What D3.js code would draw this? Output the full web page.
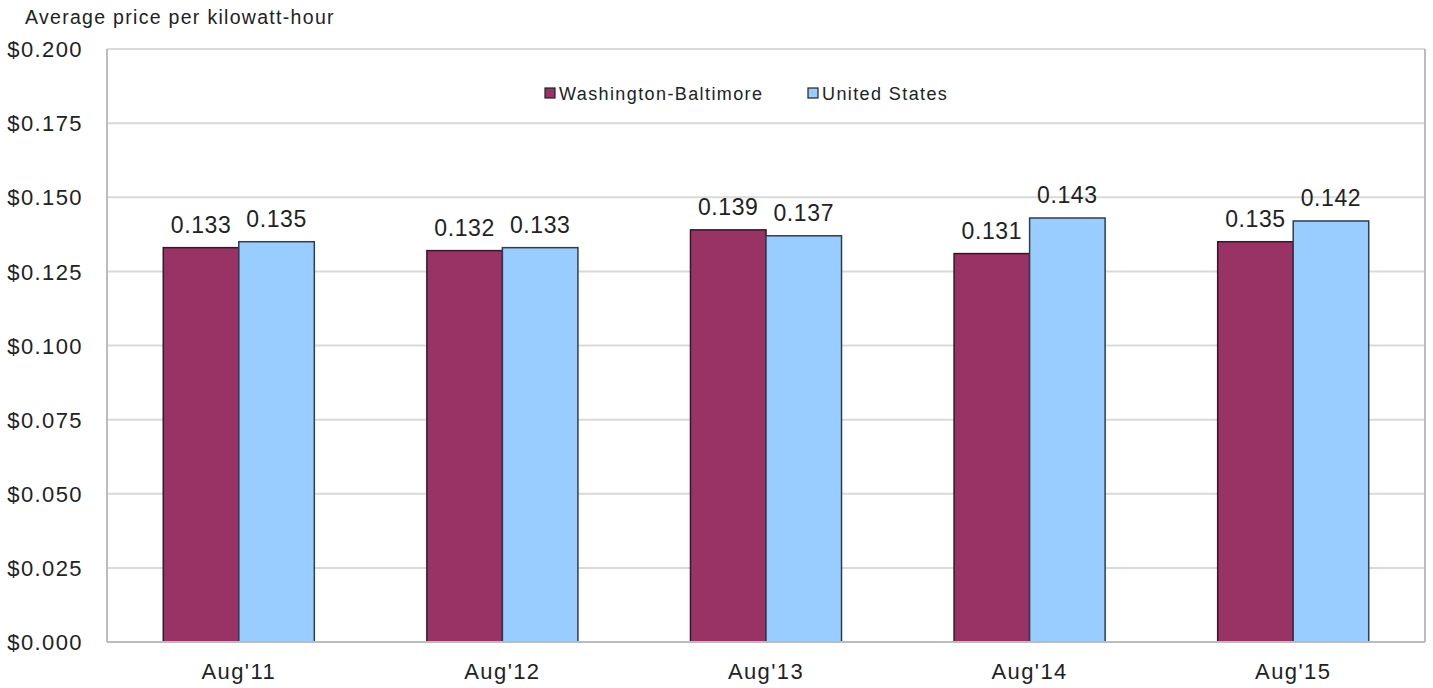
<!DOCTYPE html>
<html>
<head>
<meta charset="utf-8">
<script src="https://cdn.jsdelivr.net/npm/d3@7"></script>
<style>
  body { margin: 0; background: #fff; }
  text { font-family: "Liberation Sans", Arial, sans-serif; fill: #222; }
</style>
</head>
<body>
<div id="wrapper"></div>
<script>
// data
const periods = ["Aug'11", "Aug'12", "Aug'13", "Aug'14", "Aug'15"];
const seriesNames = ["Washington-Baltimore", "United States"];
const washBalt = [0.133, 0.132, 0.139, 0.131, 0.135];
const unitedStates = [0.135, 0.133, 0.137, 0.143, 0.142];
const yTicks = [0, 0.025, 0.05, 0.075, 0.1, 0.125, 0.15, 0.175, 0.2];
const colors = ["#993366", "#99ccff"];

const dataset = periods.map((p, i) => ({
  period: p,
  values: [washBalt[i], unitedStates[i]],
}));

// dimensions
let dimensions = {
  width: 1433,
  height: 688,
  margin: { top: 49, right: 8, bottom: 46, left: 107 },
};
dimensions.boundedWidth =
  dimensions.width - dimensions.margin.left - dimensions.margin.right;
dimensions.boundedHeight =
  dimensions.height - dimensions.margin.top - dimensions.margin.bottom;

const wrapper = d3
  .select("#wrapper")
  .append("svg")
  .attr("width", dimensions.width)
  .attr("height", dimensions.height);

const bounds = wrapper
  .append("g")
  .attr("transform", `translate(${dimensions.margin.left},${dimensions.margin.top})`);

// scales
const xScale = d3
  .scaleBand()
  .domain(periods)
  .range([0, dimensions.boundedWidth])
  .paddingInner(0.427)
  .paddingOuter(0.2135);

const xSub = d3
  .scaleBand()
  .domain(seriesNames)
  .range([0, xScale.bandwidth()]);

const yScale = d3
  .scaleLinear()
  .domain([0, 0.2])
  .range([dimensions.boundedHeight, 0]);

// gridlines
bounds
  .append("g")
  .selectAll("line")
  .data(yTicks.slice(1))
  .join("line")
  .attr("x1", 0)
  .attr("x2", dimensions.boundedWidth)
  .attr("y1", (d) => yScale(d))
  .attr("y2", (d) => yScale(d))
  .attr("stroke", "#d9d9d9")
  .attr("stroke-width", 2);

// plot frame (left, right)
bounds
  .append("line")
  .attr("x1", 0).attr("x2", 0)
  .attr("y1", 0).attr("y2", dimensions.boundedHeight)
  .attr("stroke", "#bcbcbc").attr("stroke-width", 2);
bounds
  .append("line")
  .attr("x1", dimensions.boundedWidth).attr("x2", dimensions.boundedWidth)
  .attr("y1", 0).attr("y2", dimensions.boundedHeight)
  .attr("stroke", "#bcbcbc").attr("stroke-width", 2);

// bars
const groups = bounds
  .selectAll(".group")
  .data(dataset)
  .join("g")
  .attr("class", "group")
  .attr("transform", (d) => `translate(${xScale(d.period)},0)`);

groups
  .selectAll("rect")
  .data((d) => d.values.map((v, i) => ({ name: seriesNames[i], value: v, i })))
  .join("rect")
  .attr("x", (d) => xSub(d.name))
  .attr("y", (d) => yScale(d.value))
  .attr("width", xSub.bandwidth())
  .attr("height", (d) => dimensions.boundedHeight - yScale(d.value))
  .attr("fill", (d) => colors[d.i])
  .attr("stroke", (d) => (d.i === 0 ? "#3a1428" : "#2e3e50"))
  .attr("stroke-width", 1.5);

groups
  .selectAll(".val")
  .data((d) => d.values.map((v, i) => ({ name: seriesNames[i], value: v })))
  .join("text")
  .attr("class", "val")
  .attr("x", (d) => xSub(d.name) + xSub.bandwidth() / 2)
  .attr("y", (d) => yScale(d.value) - 15)
  .attr("text-anchor", "middle")
  .style("font-size", "23px")
  .style("letter-spacing", "0.6px")
  .text((d) => d3.format(".3f")(d.value));

// bottom axis line
bounds
  .append("line")
  .attr("x1", 0).attr("x2", dimensions.boundedWidth)
  .attr("y1", dimensions.boundedHeight).attr("y2", dimensions.boundedHeight)
  .attr("stroke", "#bcbcbc").attr("stroke-width", 2);

// axes
const yAxisGenerator = d3
  .axisLeft(yScale)
  .tickValues(yTicks)
  .tickSize(0)
  .tickPadding(24)
  .tickFormat((d) => "$" + d3.format(".3f")(d));

const yAxis = bounds.append("g").call(yAxisGenerator);
yAxis.select(".domain").remove();
yAxis
  .selectAll("text")
  .style("font-size", "22px")
  .style("letter-spacing", "1.4px")
  .attr("dy", "0.35em");

const xAxisGenerator = d3.axisBottom(xScale).tickSize(0).tickPadding(21);
const xAxis = bounds
  .append("g")
  .attr("transform", `translate(0,${dimensions.boundedHeight})`)
  .call(xAxisGenerator);
xAxis.select(".domain").remove();
xAxis
  .selectAll("text")
  .style("font-size", "22px")
  .style("letter-spacing", "1.4px");

// axis title
wrapper
  .append("text")
  .attr("x", 25)
  .attr("y", 24)
  .style("font-size", "19.5px")
  .style("letter-spacing", "1.3px")
  .text("Average price per kilowatt-hour");

// legend
const legendPos = [545, 808];
const legend = wrapper
  .append("g")
  .selectAll("g")
  .data(seriesNames)
  .join("g")
  .attr("transform", (d, i) => `translate(${legendPos[i]},87)`);
legend
  .append("rect")
  .attr("width", 10)
  .attr("height", 10)
  .attr("y", 1)
  .attr("fill", (d, i) => colors[i])
  .attr("stroke", "#222")
  .attr("stroke-width", 1.2);
legend
  .append("text")
  .attr("x", 14)
  .attr("y", 12.5)
  .style("font-size", "18px")
  .style("letter-spacing", "1.4px")
  .text((d) => d);
</script>
</body>
</html>
